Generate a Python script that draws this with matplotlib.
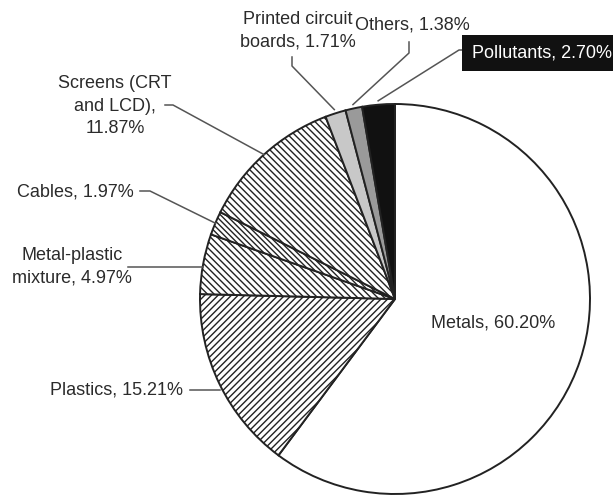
import numpy as np
import matplotlib

matplotlib.use("Agg")

import matplotlib.pyplot as plt

categories = ["Metals", "Plastics", "Metal-plastic\nmixture", "Cables",
              "Screens (CRT\nand LCD)", "Printed circuit\nboards", "Others",
              "Pollutants"]
shares = [60.20, 15.21, 4.97, 1.97, 11.87, 1.71, 1.38, 2.70]
labels = ["Metals, 60.20%", "Plastics, 15.21%", "Metal-plastic\nmixture, 4.97%",
          "Cables, 1.97%", "Screens (CRT\nand LCD),\n11.87%",
          "Printed circuit\nboards, 1.71%", "Others, 1.38%", "Pollutants, 2.70%"]

fills = ["white", "white", "white", "white", "white", "#c8c8c8", "#9a9a9a", "#111111"]
hatches = [None, "/////", "\\\\\\\\\\", "\\\\\\\\\\\\", "\\\\\\\\\\", None, None, None]

W, H = 613, 503
plt.rcParams["font.family"] = ["Liberation Sans", "DejaVu Sans"]
plt.rcParams["hatch.linewidth"] = 1.0

fig = plt.figure(figsize=(W / 100, H / 100), dpi=100)
ax = fig.add_axes([0, 0, 1, 1])


def py(y):
    # pixel row from the top -> data y
    return H - y


cx, cy, r = 395, py(299), 195
wedges, _ = ax.pie(shares, center=(cx, cy), radius=r, startangle=90,
                   counterclock=False, colors=fills,
                   wedgeprops=dict(edgecolor="#222222", linewidth=1.4))
for w, h in zip(wedges, hatches):
    if h:
        w.set_hatch(h)

ax.set_aspect("auto")
ax.set_xlim(0, W)
ax.set_ylim(0, H)
ax.axis("off")


def edge_point(i, k=1.0):
    w = wedges[i]
    a = np.deg2rad((w.theta1 + w.theta2) / 2)
    return cx + k * r * np.cos(a), cy + k * r * np.sin(a)


txt = dict(fontsize=13, color="#2b2b2b", linespacing=1.45)
lc = dict(color="#555555", lw=1.1)

# Metals, inside
ax.text(493, py(323), labels[0], ha="center", va="center", **txt)

# Plastics
ex, ey = edge_point(1)
ax.text(183, py(390), labels[1], ha="right", va="center", **txt)
ax.plot([190, ex], [py(390), py(390)], **lc)

# Metal-plastic mixture
ex, ey = edge_point(2)
ax.text(72, py(267), labels[2], ha="center", va="center", **txt)
ax.plot([128, ex], [py(267), py(267)], **lc)

# Cables
ex, ey = edge_point(3)
ax.text(134, py(192), labels[3], ha="right", va="center", **txt)
ax.plot([140, 150, ex], [py(191), py(191), ey], **lc)

# Screens
ex, ey = edge_point(4)
ax.text(115, py(106), labels[4], ha="center", va="center", **txt)
ax.plot([165, 173, ex], [py(105), py(105), ey], **lc)

# Printed circuit boards
ex, ey = edge_point(5, 1.02)
ax.text(298, py(31), labels[5], ha="center", va="center", **txt)
ax.plot([292, 292, ex], [py(57), py(66), ey], **lc)

# Others
ex, ey = edge_point(6, 1.02)
ax.text(412, py(25), labels[6], ha="center", va="center", **txt)
ax.plot([409, 409, ex], [py(42), py(53), ey], **lc)

# Pollutants, white on black
ex, ey = edge_point(7, 1.02)
ax.text(472, py(53), labels[7], ha="left", va="center", fontsize=13, color="white",
        bbox=dict(boxstyle="square,pad=0.55", facecolor="#111111", edgecolor="none"))
ax.plot([467, 459, ex], [py(50), py(50), ey], **lc)

fig.savefig("out.png", dpi=100)
